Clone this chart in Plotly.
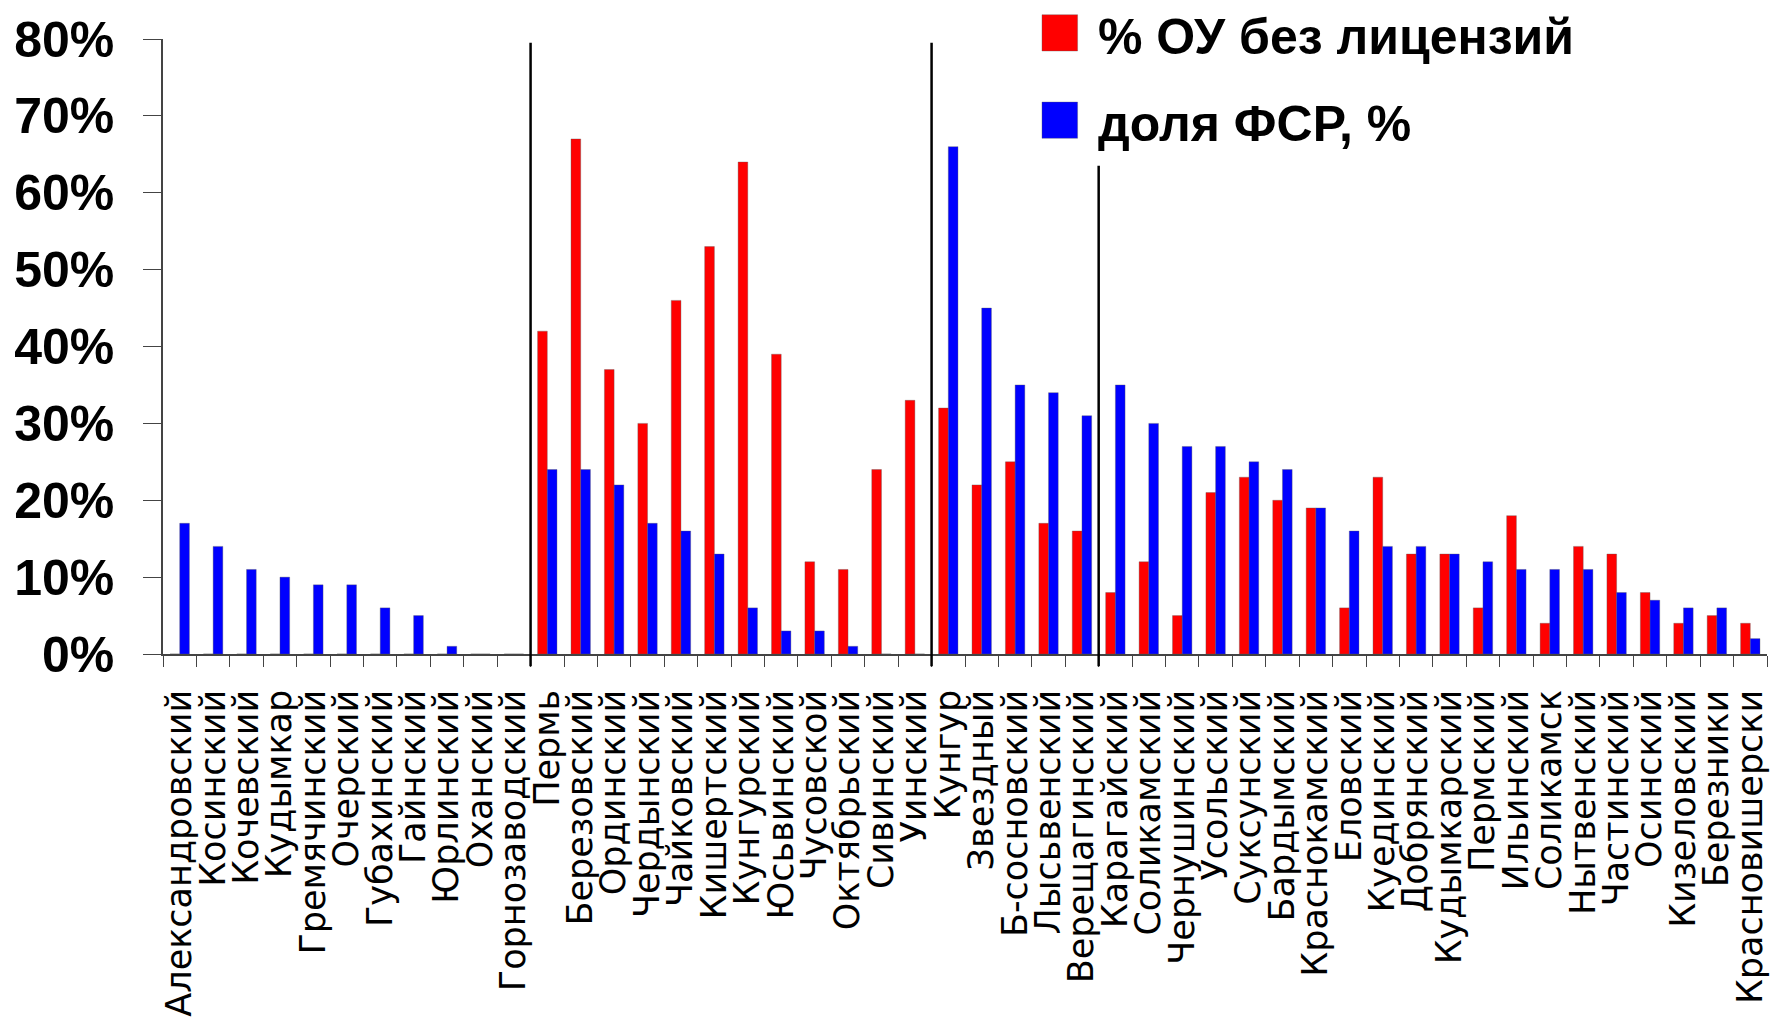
import plotly.graph_objects as go

# districts of Perm krai, in chart order
districts = [
    "Александровский", "Косинский", "Кочевский", "Кудымкар", "Гремячинский",
    "Очерский", "Губахинский", "Гайнский", "Юрлинский", "Оханский",
    "Горнозаводский", "Пермь", "Березовский", "Ординский", "Чердынский",
    "Чайковский", "Кишертский", "Кунгурский", "Юсьвинский", "Чусовской",
    "Октябрьский", "Сивинский", "Уинский", "Кунгур", "Звездный",
    "Б-сосновский", "Лысьвенский", "Верещагинский", "Карагайский", "Соликамский",
    "Чернушинский", "Усольский", "Суксунский", "Бардымский", "Краснокамский",
    "Еловский", "Куединский", "Добрянский", "Кудымкарский", "Пермский",
    "Ильинский", "Соликамск", "Нытвенский", "Частинский", "Осинский",
    "Кизеловский", "Березники", "Красновишерски",
]

# % ОУ без лицензий
no_license = [
    0, 0, 0, 0, 0, 0, 0, 0, 0, 0,
    0, 42, 67, 37, 30, 46, 53, 64, 39, 12,
    11, 24, 33, 32, 22, 25, 17, 16, 8, 12,
    5, 21, 23, 20, 19, 6, 23, 13, 13, 6,
    18, 4, 14, 13, 8, 4, 5, 4,
]

# доля ФСР, %
fsr_share = [
    17, 14, 11, 10, 9, 9, 6, 5, 1, 0,
    0, 24, 24, 22, 17, 16, 13, 6, 3, 3,
    1, 0, 0, 66, 45, 35, 34, 31, 35, 30,
    27, 27, 25, 24, 19, 16, 14, 14, 13, 12,
    11, 11, 11, 8, 7, 6, 6, 2,
]

y_ticks = [0, 10, 20, 30, 40, 50, 60, 70, 80]
y_tick_text = ["0%", "10%", "20%", "30%", "40%", "50%", "60%", "70%", "80%"]

# group separators: line drawn just before these districts, with its top (in %)
break_before = ["Пермь", "Кунгур", "Карагайский"]
break_top = [79.5, 79.5, 63.5]

series_names = ["% ОУ без лицензий", "доля ФСР, %"]
RED = "#FF0000"
BLUE = "#0000FF"

fig = go.Figure()
fig.add_trace(go.Bar(x=districts, y=no_license, name=series_names[0],
                     marker=dict(color=RED, line=dict(color="rgba(90,90,90,0.6)", width=0.6))))
fig.add_trace(go.Bar(x=districts, y=fsr_share, name=series_names[1],
                     marker=dict(color=BLUE, line=dict(color="rgba(90,90,90,0.6)", width=0.6))))

for name, top in zip(break_before, break_top):
    pos = districts.index(name) - 0.5
    fig.add_shape(type="line", xref="x", yref="paper", x0=pos, x1=pos,
                  y0=-0.02, y1=top / 80, line=dict(color="black", width=2.5))

# hand-made legend with big swatches, top right
leg_x = 0.548
for i, (name, col) in enumerate(zip(series_names, [RED, BLUE])):
    yc = 1.01 - i * 0.142
    fig.add_shape(type="rect", xref="paper", yref="paper",
                  x0=leg_x, x1=leg_x + 0.0222, y0=yc - 0.0295, y1=yc + 0.0295,
                  fillcolor=col, line=dict(color="rgba(90,90,90,0.6)", width=0.6))
    fig.add_annotation(xref="paper", yref="paper", x=0.5817, y=yc - 0.006,
                       xanchor="left", yanchor="middle", text=name, showarrow=False,
                       font=dict(family="Liberation Sans", size=50, color="black", weight="bold"))

# page body keeps its default 8px margin, so the figure is a bit smaller than the window
fig.update_layout(
    width=1765, height=1015,
    margin=dict(l=155, r=6, t=31, b=369),
    barmode="group", bargap=0.42, bargroupgap=0,
    plot_bgcolor="white", paper_bgcolor="white",
    showlegend=False,
)
fig.update_xaxes(
    type="category", dtick=1, tickangle=-90,
    tickfont=dict(family="DejaVu Sans", size=35, color="black"),
    ticks="outside", tickson="boundaries", ticklen=11, tickcolor="#444", tickwidth=1.2,
    showline=True, linecolor="#444", linewidth=1.5,
    showgrid=False, automargin=False, ticklabelstandoff=20,
)
fig.update_yaxes(
    range=[0, 80], tickvals=y_ticks, ticktext=y_tick_text,
    tickfont=dict(family="Liberation Sans", size=50, color="black", weight="bold"),
    ticks="outside", ticklen=18, tickcolor="#444", tickwidth=1.2,
    showline=True, linecolor="#444", linewidth=1.5,
    showgrid=False, zeroline=False, automargin=False, ticklabelstandoff=19,
)

fig.write_html("out.html")
